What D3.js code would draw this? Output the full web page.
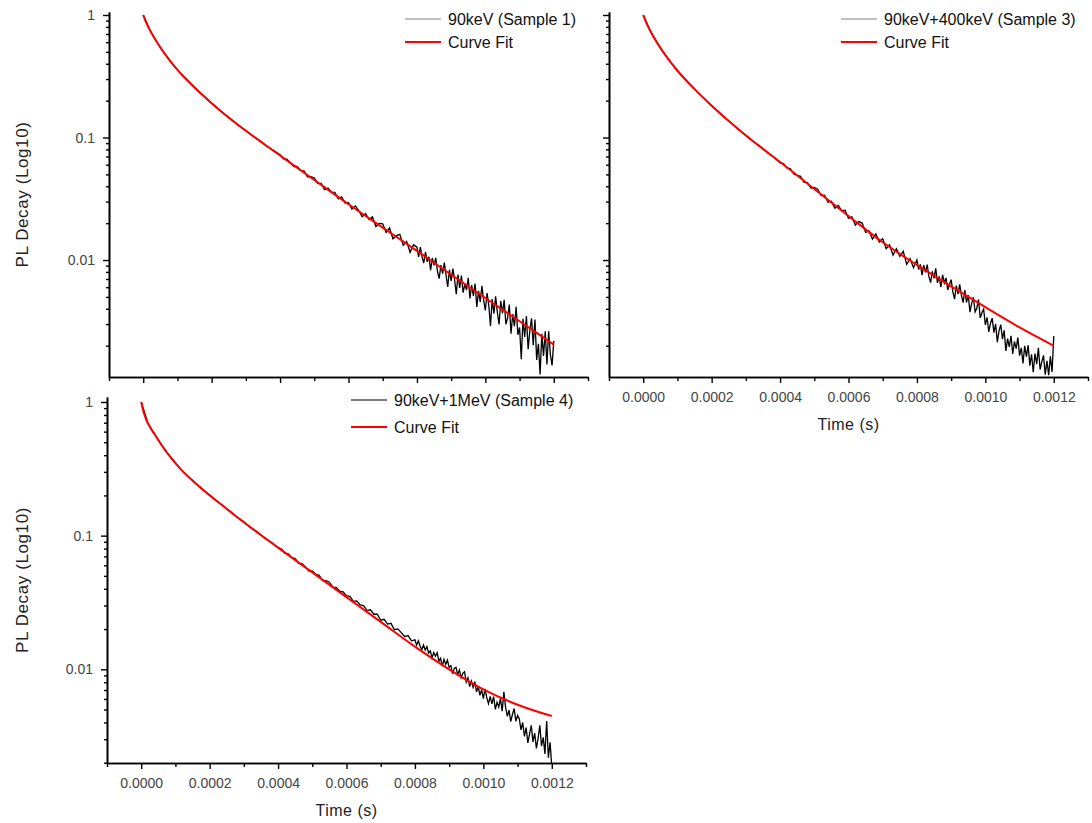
<!DOCTYPE html>
<html>
<head>
<meta charset="utf-8">
<script src="https://cdn.jsdelivr.net/npm/d3@7"></script>
<style>
  body { margin: 0; background: #fff; }
  svg text { font-family: Arial, "Liberation Sans", sans-serif; }
</style>
</head>
<body>
<svg id="chart" width="1092" height="823"></svg>
<script>
'use strict';

// time grid for the measured traces, in units of 1e-5 s
var timeSteps = d3.range(0, 40, 2).concat(d3.range(40, 80, 1), d3.range(80, 120.25, 0.5));

var sample1Log = [
  0, -0.125, -0.22, -0.304, -0.379, -0.448, -0.506, -0.563, -0.618, -0.669, -0.72, -0.767, -0.814, -0.857, -0.904, -0.943, -0.988, -1.024, -1.068, -1.104,
  -1.14, -1.175, -1.177, -1.205, -1.237, -1.235, -1.27, -1.273, -1.32, -1.319,
  -1.33, -1.375, -1.375, -1.425, -1.413, -1.445, -1.447, -1.50, -1.485, -1.535,
  -1.53, -1.584, -1.558, -1.597, -1.646, -1.62, -1.669, -1.648, -1.727, -1.701,
  -1.705, -1.774, -1.738, -1.827, -1.801, -1.79, -1.879, -1.848, -1.937, -1.876,
  -1.895, -1.975, -1.894, -1.974, -2.024, -1.934, -2.014, -1.973, -2.083, -1.983,
  -2.043, -1.982, -2.092, -2.152, -2.042, -2.111, -2.021, -2.121, -2.22, -2.08,
  -2.17, -2.07, -2.159, -2.278, -2.118, -2.227, -2.127, -2.266, -2.196, -2.245,
  -2.145, -2.314, -2.204, -2.293, -2.193, -2.382, -2.252, -2.341, -2.211, -2.33,
  -2.41, -2.27, -2.369, -2.538, -2.318, -2.437, -2.297, -2.426, -2.526, -2.335,
  -2.435, -2.324, -2.524, -2.473, -2.363, -2.602, -2.442, -2.541, -2.381, -2.61,
  -2.55, -2.81, -2.479, -2.628, -2.458, -2.727, -2.577, -2.476, -2.696, -2.485,
  -2.815, -2.684, -2.934, -2.603, -2.783, -2.582, -2.852, -2.581, -2.771, -2.86,
  -2.66
];
var sample3Log = [
  0, -0.125, -0.222, -0.308, -0.385, -0.455, -0.515, -0.575, -0.632, -0.686, -0.74, -0.79, -0.84, -0.887, -0.938, -0.981, -1.029, -1.069, -1.116, -1.155,
  -1.208, -1.212, -1.249, -1.254, -1.298, -1.31, -1.317, -1.366, -1.368, -1.413,
  -1.408, -1.422, -1.474, -1.471, -1.528, -1.52, -1.577, -1.554, -1.596, -1.593,
  -1.66, -1.647, -1.714, -1.686, -1.698, -1.775, -1.762, -1.829, -1.786, -1.853,
  -1.825, -1.908, -1.876, -1.959, -1.907, -1.97, -1.928, -2.036, -1.989, -2.062,
  -2.00, -2.078, -2.036, -2.124, -2.042, -2.10, -2.038, -2.136, -2.184, -2.092,
  -2.15, -2.068, -2.186, -2.134, -2.222, -2.12, -2.188, -2.146, -2.244, -2.202,
  -2.16, -2.26, -2.319, -2.209, -2.278, -2.198, -2.287, -2.347, -2.246, -2.346,
  -2.285, -2.425, -2.354, -2.304, -2.423, -2.393, -2.322, -2.472, -2.431, -2.401,
  -2.53, -2.469, -2.587, -2.516, -2.474, -2.593, -2.521, -2.67, -2.578, -2.527,
  -2.645, -2.574, -2.742, -2.641, -2.709, -2.618, -2.766, -2.665, -2.723, -2.632,
  -2.78, -2.717, -2.844, -2.701, -2.788, -2.695, -2.862, -2.769, -2.916, -2.763,
  -2.85, -2.717, -2.894, -2.831, -2.778, -2.935, -2.822, -2.94, -2.786, -2.913,
  -2.62
];
var sample4Log = [
  0, -0.16, -0.245, -0.322, -0.393, -0.454, -0.515, -0.563, -0.61, -0.655, -0.696, -0.738, -0.779, -0.818, -0.862, -0.897, -0.94, -0.972, -1.016, -1.05,
  -1.09, -1.101, -1.132, -1.136, -1.164, -1.171, -1.207, -1.21, -1.234, -1.265,
  -1.263, -1.289, -1.297, -1.336, -1.337, -1.348, -1.386, -1.387, -1.415, -1.42,
  -1.45, -1.454, -1.492, -1.488, -1.519, -1.523, -1.561, -1.555, -1.588, -1.587,
  -1.633, -1.626, -1.662, -1.656, -1.704, -1.698, -1.726, -1.755, -1.748, -1.787,
  -1.78, -1.819, -1.787, -1.826, -1.854, -1.818, -1.856, -1.83, -1.878, -1.862,
  -1.915, -1.874, -1.902, -1.876, -1.939, -1.918, -1.976, -1.925, -1.963, -1.932,
  -1.985, -1.973, -2.035, -1.993, -1.985, -2.038, -2.005, -2.063, -2.03, -2.018,
  -2.095, -2.063, -2.13, -2.088, -2.135, -2.093, -2.17, -2.128, -2.195, -2.153,
  -2.22, -2.146, -2.212, -2.257, -2.203, -2.259, -2.205, -2.30, -2.246, -2.282,
  -2.218, -2.313, -2.169, -2.285, -2.351, -2.306, -2.392, -2.338, -2.294, -2.389,
  -2.345, -2.369, -2.454, -2.398, -2.502, -2.436, -2.551, -2.485, -2.419, -2.543,
  -2.478, -2.592, -2.516, -2.42, -2.575, -2.509, -2.633, -2.387, -2.662, -2.546,
  -2.73
];

// curve fits: time (1e-5 s) and log10 value
var fit1Steps = [0, 1, 2.5, 5, 7.5, 10, 15, 20, 25, 30, 35, 40, 50, 60, 70, 80, 90, 100, 110, 120];
var fit1Log = [0, -0.07, -0.152, -0.265, -0.362, -0.448, -0.592, -0.72, -0.838, -0.945, -1.047, -1.147, -1.347, -1.545, -1.735, -1.925, -2.12, -2.31, -2.50, -2.69];
var fit3Steps = [0, 1, 2.5, 5, 7.5, 10, 15, 20, 25, 30, 35, 40, 50, 60, 70, 80, 90, 100, 110, 120];
var fit3Log = [0, -0.07, -0.153, -0.268, -0.367, -0.455, -0.605, -0.74, -0.865, -0.983, -1.093, -1.2, -1.42, -1.64, -1.855, -2.04, -2.215, -2.385, -2.55, -2.70];
var fit4Steps = [0, 0.7, 1.5, 2.5, 4, 7.3, 12, 17, 25, 30, 40, 50, 60, 70, 80, 90, 100, 110, 120];
var fit4Log = [0, -0.075, -0.135, -0.185, -0.245, -0.372, -0.515, -0.634, -0.80, -0.90, -1.09, -1.275, -1.46, -1.645, -1.83, -2.0, -2.15, -2.265, -2.35];

var xMajorTicks = [0, 0.0002, 0.0004, 0.0006, 0.0008, 0.0010, 0.0012];
var xMinorTicks = [-0.0001, 0.0001, 0.0003, 0.0005, 0.0007, 0.0009, 0.0011, 0.0013];
var yMajorTicks = [1, 0.1, 0.01];
var yMajorLabels = ['1', '0.1', '0.01'];

var panels = [
  { data: sample1Log, fitSteps: fit1Steps, fitLog: fit1Log, label: '90keV (Sample 1)', legendStroke: '#808080',
    left: 109, right: 588, top: 12, bottom: 377, yMin: 0.00111, yMax: 1.058,
    yLabels: true, xLabels: false, legendX: 405, legendY: 19, rowGap: 23 },
  { data: sample3Log, fitSteps: fit3Steps, fitLog: fit3Log, label: '90keV+400keV (Sample 3)', legendStroke: '#808080',
    left: 609, right: 1088, top: 12, bottom: 377, yMin: 0.00111, yMax: 1.058,
    yLabels: false, xLabels: true, legendX: 841, legendY: 19, rowGap: 23 },
  { data: sample4Log, fitSteps: fit4Steps, fitLog: fit4Log, label: '90keV+1MeV (Sample 4)', legendStroke: '#000',
    left: 107, right: 586, top: 397, bottom: 763, yMin: 0.00199, yMax: 1.09,
    yLabels: true, xLabels: true, legendX: 351, legendY: 400, rowGap: 27 }
];

var svg = d3.select('#chart');

function styleAxis(g) {
  g.select('.domain').attr('stroke', '#000').attr('stroke-width', 1.6);
  g.selectAll('.tick line').attr('stroke', '#000').attr('stroke-width', 1.4);
  g.selectAll('.tick text').attr('fill', '#444').style('font-size', '14px');
}

panels.forEach(function (p, i) {
  var x = d3.scaleLinear().domain([-0.0001, 0.0013]).range([p.left, p.right]);
  var y = d3.scaleLog().domain([p.yMin, p.yMax]).range([p.bottom, p.top]);

  var yMinor = [];
  [0.001, 0.01, 0.1].forEach(function (dec) {
    d3.range(2, 10).forEach(function (m) {
      var v = m * dec;
      if (v >= p.yMin && v <= p.yMax) yMinor.push(v);
    });
  });

  var clipId = 'clip' + i;
  svg.append('clipPath').attr('id', clipId).append('rect')
    .attr('x', p.left).attr('y', p.top).attr('width', p.right - p.left).attr('height', p.bottom - p.top);

  var plot = svg.append('g').attr('clip-path', 'url(#' + clipId + ')');

  var measured = timeSteps.map(function (k, j) { return { t: k * 1e-5, v: Math.pow(10, p.data[j]) }; });
  var fitted = p.fitSteps.map(function (k, j) { return { t: k * 1e-5, v: Math.pow(10, p.fitLog[j]) }; });

  plot.append('path').datum(measured)
    .attr('fill', 'none').attr('stroke', '#000').attr('stroke-width', 1.3)
    .attr('d', d3.line().x(function (d) { return x(d.t); }).y(function (d) { return y(d.v); }));

  plot.append('path').datum(fitted)
    .attr('fill', 'none').attr('stroke', '#ff0000').attr('stroke-width', 2)
    .attr('d', d3.line().curve(d3.curveMonotoneX).x(function (d) { return x(d.t); }).y(function (d) { return y(d.v); }));

  // y axis: minor then major
  svg.append('g').attr('transform', 'translate(' + p.left + ',0)')
    .call(d3.axisLeft(y).tickValues(yMinor).tickSize(3).tickSizeOuter(0).tickFormat(''))
    .call(styleAxis);
  svg.append('g').attr('transform', 'translate(' + p.left + ',0)')
    .call(d3.axisLeft(y).tickValues(yMajorTicks).tickSize(6).tickSizeOuter(0).tickPadding(8)
      .tickFormat(function (d, j) { return p.yLabels ? yMajorLabels[j] : ''; }))
    .call(styleAxis);

  // x axis
  svg.append('g').attr('transform', 'translate(0,' + p.bottom + ')')
    .call(d3.axisBottom(x).tickValues(xMinorTicks).tickSize(4).tickSizeOuter(0).tickFormat(''))
    .call(styleAxis);
  svg.append('g').attr('transform', 'translate(0,' + p.bottom + ')')
    .call(d3.axisBottom(x).tickValues(xMajorTicks).tickSize(6).tickSizeOuter(0).tickPadding(9)
      .tickFormat(function (d) { return p.xLabels ? d3.format('.4f')(d) : ''; }))
    .call(styleAxis);

  if (p.xLabels) {
    svg.append('text')
      .attr('x', (p.left + p.right) / 2).attr('y', p.bottom + 53)
      .attr('text-anchor', 'middle').attr('fill', '#222').style('font-size', '16px')
      .style('letter-spacing', '0.5px')
      .text('Time (s)');
  }
  if (p.yLabels) {
    svg.append('text')
      .attr('transform', 'translate(28,' + ((p.top + p.bottom) / 2) + ') rotate(-90)')
      .attr('text-anchor', 'middle').attr('fill', '#222').style('font-size', '17px')
      .style('letter-spacing', '0.6px')
      .text('PL Decay (Log10)');
  }

  // legend
  var lg = svg.append('g').attr('transform', 'translate(' + p.legendX + ',' + p.legendY + ')');
  var rows = [{ name: p.label, stroke: p.legendStroke, w: 1.2 }, { name: 'Curve Fit', stroke: '#ff0000', w: 2 }];
  rows.forEach(function (r, j) {
    lg.append('line').attr('x1', 0).attr('x2', 36).attr('y1', j * p.rowGap).attr('y2', j * p.rowGap)
      .attr('stroke', r.stroke).attr('stroke-width', r.w);
    lg.append('text').attr('x', 43).attr('y', j * p.rowGap).attr('dy', '0.36em')
      .attr('fill', '#111').style('font-size', '16px').text(r.name);
  });
});
</script>
</body>
</html>
